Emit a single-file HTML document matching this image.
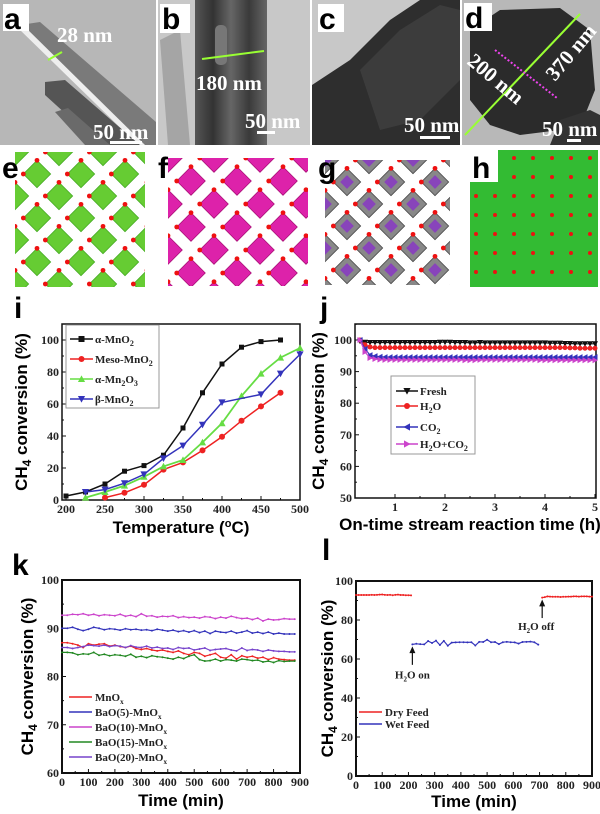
<!DOCTYPE html>
<html><head><meta charset="utf-8"><style>
html,body{margin:0;padding:0;background:#fff;}
svg{display:block;}
.tk{font-family:"Liberation Serif",serif;font-weight:bold;font-size:12px;fill:#222;}
.at{font-family:"Liberation Sans",sans-serif;font-weight:bold;font-size:17px;fill:#000;}
.pl{font-family:"Liberation Sans",sans-serif;font-weight:bold;font-size:30px;fill:#000;}
.lg{font-family:"Liberation Serif",serif;font-weight:bold;font-size:11px;fill:#222;}
.tm{font-family:"Liberation Serif",serif;font-weight:bold;font-size:21px;fill:#fff;}
</style></head><body>
<svg id="fig" width="600" height="814" viewBox="0 0 600 814" xmlns="http://www.w3.org/2000/svg">
<defs>
<linearGradient id="rodB" x1="0" y1="0" x2="1" y2="0"><stop offset="0" stop-color="#555"/><stop offset="0.25" stop-color="#333"/><stop offset="0.5" stop-color="#666"/><stop offset="0.75" stop-color="#3a3a3a"/><stop offset="1" stop-color="#666"/></linearGradient>
</defs>
<!-- TEM a -->
<g>
<rect x="0" y="0" width="156" height="145" fill="#b7b7b7"/>
<polygon points="20,25 40,22 156,122 156,145 140,145" fill="#7a7a7a"/>
<polygon points="18,28 24,26 145,145 138,145" fill="#eeeeee"/>
<polygon points="45,82 65,80 140,145 100,145 45,95" fill="#555"/>
<polygon points="55,112 68,108 110,145 85,145" fill="#6a6a6a"/>
<line x1="48" y1="60" x2="62" y2="52" stroke="#9f3" stroke-width="2"/>
<text class="tm" x="57" y="42">28 nm</text>
<text class="tm" x="93" y="139">50 nm</text>
<rect x="110" y="141" width="32" height="3" fill="#fff"/>
<rect x="3" y="4" width="26" height="27" fill="#fff"/>
<text class="pl" x="4" y="29">a</text>
</g>
<!-- TEM b -->
<g>
<rect x="158" y="0" width="152" height="145" fill="#c8c8c8"/>
<polygon points="160,40 180,30 190,145 168,145" fill="#a5a5a5"/>
<rect x="195" y="0" width="72" height="145" fill="url(#rodB)"/>
<rect x="215" y="25" width="12" height="40" fill="#777" rx="5"/>
<line x1="202" y1="59" x2="264" y2="51" stroke="#9f3" stroke-width="2"/>
<text class="tm" x="196" y="90">180 nm</text>
<text class="tm" x="245" y="128">50 nm</text>
<rect x="257" y="131" width="18" height="3" fill="#fff"/>
<rect x="160" y="4" width="30" height="29" fill="#fff"/>
<text class="pl" x="162" y="29">b</text>
</g>
<!-- TEM c -->
<g>
<rect x="312" y="0" width="148" height="145" fill="#c8c8c8"/>
<polygon points="312,85 350,60 390,20 420,0 460,0 460,145 312,145" fill="#2e2e2e"/>
<polygon points="360,70 400,30 440,5 460,10 460,80 420,120 380,130" fill="#3c3c3c"/>
<text class="tm" x="404" y="132">50 nm</text>
<rect x="420" y="136" width="30" height="3" fill="#fff"/>
<rect x="318" y="4" width="26" height="28" fill="#fff"/>
<text class="pl" x="319" y="29">c</text>
</g>
<!-- TEM d -->
<g>
<rect x="462" y="0" width="138" height="145" fill="#b8b8b8"/>
<polygon points="470,30 500,10 560,8 590,30 595,90 585,115 560,130 520,135 490,125 470,100" fill="#2b2b2b"/>
<polygon points="560,120 590,110 600,115 600,145 550,145" fill="#333"/>
<line x1="580" y1="14" x2="465" y2="135" stroke="#9f3" stroke-width="2"/>
<line x1="495" y1="50" x2="557" y2="98" stroke="#e4e" stroke-width="2" stroke-dasharray="2,2"/>
<text class="tm" x="0" y="0" font-size="17" transform="translate(466,63) rotate(40)">200 nm</text>
<text class="tm" x="0" y="0" font-size="17" transform="translate(555,82) rotate(-50)">370 nm</text>
<text class="tm" x="542" y="136" font-size="18">50 nm</text>
<rect x="567" y="139" width="14" height="3" fill="#fff"/>
<rect x="464" y="3" width="28" height="28" fill="#fff"/>
<text class="pl" x="465" y="28">d</text>
</g>
<g id="structs"></g>
<text class="pl" x="2" y="178">e</text>
<text class="pl" x="158" y="178">f</text>
<text class="pl" x="318" y="178">g</text>
<rect x="470" y="150" width="28" height="32" fill="#fff"/>
<text class="pl" x="472" y="178">h</text>
<text class="pl" x="14" y="318">i</text>
<text class="pl" x="320" y="318">j</text>
<text class="pl" x="12" y="575" font-size="32">k</text>
<text class="pl" x="322" y="560" font-size="32">l</text>
<g id="charts"></g>
</svg>
<script>
// ---------- chart i data ----------
const iTemps = [200,225,250,275,300,325,350,375,400,425,450,475,500];
const iAlpha = [2.5,5,10,18,21.5,28,45,67,85,95.5,99,100,null];
const iMeso = [null,null,1.5,4.5,9.5,19,23.5,31,39.5,49.5,58.5,67,null];
const iMn2O3 = [null,1.5,5,9,14.5,21,25,36,48,65,79,89,95];
const iBeta = [null,5,6.5,10.5,16,26,34,47,61,null,66,79,91];
const iYTicks = [0,20,40,60,80,100];
const iXTicks = [200,250,300,350,400,450,500];
// ---------- chart j data ----------
const jTimes = [0.3,0.4,0.5,0.6,0.7,0.8,0.9,1.0,1.1,1.2,1.3,1.4,1.5,1.6,1.7,1.8,1.9,2.0,2.1,2.2,2.3,2.4,2.5,2.6,2.7,2.8,2.9,3.0,3.1,3.2,3.3,3.4,3.5,3.6,3.7,3.8,3.9,4.0,4.1,4.2,4.3,4.4,4.5,4.6,4.7,4.8,4.9,5.0];
const jFresh = [99.6,99.3,99.2,99.2,99.2,99.2,99.2,99.2,99.2,99.2,99.2,99.2,99.2,99.2,99.2,99.2,99.3,99.3,99.3,99.2,99.2,99.2,99.1,99.1,99.2,99.1,99.1,99.1,99.1,99.1,99.1,99.1,99.1,99.1,99.1,99.1,99.1,99.1,99.0,99.0,99.0,98.9,98.9,98.8,98.8,98.8,98.8,98.8];
const jH2O = [100,98.5,97.8,97.6,97.6,97.6,97.6,97.6,97.6,97.6,97.6,97.6,97.6,97.6,97.6,97.6,97.6,97.6,97.6,97.6,97.6,97.6,97.6,97.6,97.6,97.6,97.6,97.6,97.6,97.6,97.6,97.6,97.6,97.6,97.6,97.6,97.6,97.6,97.6,97.6,97.6,97.6,97.5,97.5,97.4,97.4,97.4,97.4];
const jCO2 = [100,97.2,95.2,94.9,94.7,94.6,94.6,94.6,94.6,94.6,94.6,94.6,94.6,94.6,94.6,94.6,94.6,94.6,94.6,94.6,94.6,94.6,94.6,94.6,94.6,94.6,94.6,94.6,94.6,94.6,94.6,94.6,94.6,94.6,94.6,94.6,94.6,94.6,94.6,94.6,94.6,94.6,94.6,94.6,94.6,94.6,94.6,94.6];
const jMix = [100,96.2,94.3,94.0,93.8,93.7,93.7,93.7,93.7,93.7,93.7,93.7,93.7,93.7,93.7,93.7,93.7,93.7,93.7,93.7,93.7,93.6,93.6,93.6,93.7,93.7,93.7,93.7,93.7,93.7,93.7,93.7,93.7,93.7,93.7,93.7,93.6,93.6,93.6,93.6,93.6,93.6,93.6,93.6,93.6,93.6,93.6,93.6];
const jYTicks = [50,60,70,80,90,100];
const jXTicks = [1,2,3,4,5];
// ---------- chart k data ----------
const kTimes = [0,20,40,60,80,100,120,140,160,180,200,220,240,260,280,300,320,340,360,380,400,420,440,460,480,500,520,540,560,580,600,620,640,660,680,700,720,740,760,780,800,820,840,860,880];
const kMnOx = [87,87,86.8,86.5,86,86.8,86.5,86.7,86.8,86.3,86.5,86.2,86,86.3,85.8,85.6,85.8,85.5,85.3,85.5,85.2,85,85.3,84.8,84.5,85,84.8,84.2,84.5,84.8,84,83.8,84.5,83.6,84.3,84,84.2,83.8,84,83.5,83.9,83.6,83.5,83.4,83.4];
const kBa5 = [90,90,90.2,89.8,89.5,89.8,90.2,90,89.7,89.9,89.8,89.6,89.9,89.7,89.8,89.6,89.7,89.5,89.8,89.6,89.4,89.6,89.3,89.5,89.2,89.5,89.1,89.4,88.9,89.4,89.2,89.1,89.4,89,89.2,89.5,89,89.2,88.9,89.2,88.8,89,88.8,88.8,88.8];
const kBa10 = [92.7,92.7,92.9,92.8,93,92.7,92.9,92.6,92.8,92.7,92.6,92.9,92.5,92.7,92.4,93,92.5,92.6,92.3,92.5,92.4,92.6,92.2,92.4,92.2,92.3,92.1,92.4,92.3,92,92.3,92.1,92.5,92.2,92,92.1,91.8,92.1,91.5,91.9,91.7,91.8,92,91.9,91.9];
const kBa15 = [85,85,84.9,84.5,84.7,84.6,85,84.4,84.6,84.3,84.5,84.4,84.2,84.6,84,84.2,83.9,84.3,84.1,84,83.8,83.6,84,83.7,84.2,84.5,83.5,83.2,83.3,83.6,83.2,83.5,83.4,83.2,83.6,83.5,83.3,83.4,83,83.2,82.9,83.3,83.1,83.2,83.2];
const kBa20 = [86,86,85.8,86,86.2,86.5,86.4,86.3,86.5,86.2,86.4,86.3,86,86.4,86.1,86,86.3,85.9,86.1,85.8,85.9,85.6,86,85.8,85.9,85.5,85.7,85.9,85.4,85.6,85.7,85.8,85.5,85.3,85.9,85.4,85.6,85.5,85.2,85.5,85.3,85.2,85.2,85.1,85.1];
const kYTicks = [60,70,80,90,100];
const kXTicks = [0,100,200,300,400,500,600,700,800,900];
// ---------- chart l data ----------
const lDry1T = [0,10,20,30,40,50,60,70,80,90,100,110,120,130,140,150,160,170,180,190,200,210];
const lDry1V = [92.8,92.8,92.8,92.8,92.8,92.8,92.9,92.8,92.9,93.0,93.1,92.9,92.8,92.9,92.7,92.9,93.0,92.8,92.8,92.7,92.7,92.6];
const lWetT = [215,230,245,260,275,290,305,320,335,350,365,380,395,410,425,440,455,470,485,500,515,530,545,560,575,590,605,620,635,650,665,680,695];
const lWetV = [67.5,67.8,67.6,67.5,69.2,68.2,69.4,67.2,69.3,66.8,68.4,68.5,68.6,68.6,68.5,68.6,66.9,68.8,68.7,69.9,68.6,68.7,67.6,68.6,68.8,68.6,68.5,67.9,68.7,68.8,68.9,68.6,67.4];
const lDry2T = [710,720,730,740,750,760,770,780,790,800,810,820,830,840,850,860,870,880,890,900];
const lDry2V = [91.5,91.7,92.1,92.0,91.9,91.9,91.9,91.8,91.9,91.9,92.0,92.0,92.1,92.1,92.0,92.1,92.1,92.1,92.0,92.0];
const lYTicks = [0,20,40,60,80,100];
const lXTicks = [0,100,200,300,400,500,600,700,800,900];

const NS = 'http://www.w3.org/2000/svg';
const root = document.getElementById('charts');
function mk(tag, attrs, parent){ const e=document.createElementNS(NS,tag); for(const k in attrs) e.setAttribute(k,attrs[k]); (parent||root).appendChild(e); return e; }

function marker(g, type, x, y, color, s){
  let e;
  if(type==='sq') e=mk('rect',{x:x-s,y:y-s,width:2*s,height:2*s,fill:color},g);
  else if(type==='ci') e=mk('circle',{cx:x,cy:y,r:s,fill:color},g);
  else if(type==='tu') e=mk('polygon',{points:`${x},${y-s*1.2} ${x-s*1.2},${y+s} ${x+s*1.2},${y+s}`,fill:color},g);
  else if(type==='td') e=mk('polygon',{points:`${x},${y+s*1.2} ${x-s*1.2},${y-s} ${x+s*1.2},${y-s}`,fill:color},g);
  else if(type==='tl') e=mk('polygon',{points:`${x-s*1.2},${y} ${x+s},${y-s*1.2} ${x+s},${y+s*1.2}`,fill:color},g);
  else if(type==='tr') e=mk('polygon',{points:`${x+s*1.2},${y} ${x-s},${y-s*1.2} ${x-s},${y+s*1.2}`,fill:color},g);
  else e=mk('circle',{cx:x,cy:y,r:s,fill:color},g);
  
  
}

function axes(c){
  const g=mk('g',{});
  
  
  const sx=v=>c.x0+(v-c.xmin)/(c.xmax-c.xmin)*(c.x1-c.x0);
  const sy=v=>c.y0-(v-c.ymin)/(c.ymax-c.ymin)*(c.y0-c.y1);
  c.sx=sx; c.sy=sy; c.g=g;
  const L=c.bx0, R=c.bx1, T=c.by0, B=c.by1;
  const box=mk('rect',{x:L,y:T,width:R-L,height:B-T,fill:'none',stroke:'#111','stroke-width':c.bw||1.5},g);
  
  
  c.yt.forEach(v=>{ const y=sy(v);
    mk('line',{x1:L,y1:y,x2:L+4,y2:y,stroke:'#111','stroke-width':1},g);
    if(c.minorY){ const y2=sy(v+c.minorY); if(y2>T) mk('line',{x1:L,y1:y2,x2:L+2,y2:y2,stroke:'#111','stroke-width':1},g);}
    const t=mk('text',{x:L-3,y:y+4,'text-anchor':'end',class:'tk','font-size':c.tfs||12},g); t.textContent=v;
    
    
  });
  c.xt.forEach(v=>{ const x=sx(v);
    mk('line',{x1:x,y1:B,x2:x,y2:B-4,stroke:'#111','stroke-width':1},g);
    if(c.minorX){ const x2=sx(v+c.minorX); if(x2<R) mk('line',{x1:x2,y1:B,x2:x2,y2:B-2,stroke:'#111','stroke-width':1},g);}
    const t=mk('text',{x:x,y:B+13,'text-anchor':'middle',class:'tk','font-size':c.tfs||12},g); t.textContent=v;
    
    
  });
  const xt=mk('text',{x:c.xtx||(L+R)/2,y:c.xty,'text-anchor':'middle',class:'at','font-size':c.xsz||c.tsz||17},g);
  xt.innerHTML=c.xtitle;
  
  
  const yt=mk('text',{x:0,y:0,'text-anchor':'middle',class:'at','font-size':c.tsz||17,transform:`translate(${c.ytx},${(T+B)/2}) rotate(-90)`},g);
  yt.innerHTML='CH<tspan font-size="12" dy="4">4</tspan><tspan dy="-4"> conversion (%)</tspan>';
  
  
  return c;
}
function series(c, xs, ys, color, mt, ms, lw, name){
  const g=mk('g',{},c.g);
  
  
  let d=''; let started=false;
  xs.forEach((x,i)=>{ const v=ys[i]; if(v===null||v===undefined) return; d+=(started?'L':'M')+c.sx(x).toFixed(1)+','+c.sy(v).toFixed(1); started=true; });
  mk('path',{d:d,fill:'none',stroke:color,'stroke-width':lw},g);
  xs.forEach((x,i)=>{ const v=ys[i]; if(v===null||v===undefined) return; marker(g,mt,c.sx(x),c.sy(v),color,ms); });
}
function legend(c, items, x0, x1, tx, ys, bbox){
  const g=mk('g',{},c.g);
  
  
  if(bbox) mk('rect',{x:bbox[0],y:bbox[1],width:bbox[2],height:bbox[3],fill:'#fff',stroke:'#999','stroke-width':1},g);
  items.forEach((it,i)=>{
    const e=mk('g',{},g);
    
    
    mk('line',{x1:x0,y1:ys[i],x2:x1,y2:ys[i],stroke:it.c,'stroke-width':it.lw||1.5},e);
    if(it.m) marker(e,it.m,(x0+x1)/2,ys[i],it.c,it.ms||3);
    const t=mk('text',{x:tx,y:ys[i]+4,class:'lg'},e); t.innerHTML=it.t;
  });
}

// chart i
const ci=axes({name:'chart-i',xmin:200,xmax:500,ymin:0,ymax:100,x0:66,x1:300,y0:500,y1:340,bx0:62,bx1:300,by0:324,by1:500,yt:iYTicks,xt:iXTicks,minorY:10,minorX:25,xty:533,ytx:27,xtitle:'Temperature (<tspan font-size="11" dy="-6">o</tspan><tspan dy="6">C)</tspan>'});
series(ci,iTemps,iAlpha,'#111','sq',2.5,1.5,'series-alpha-mno2');
series(ci,iTemps,iMeso,'#e22','ci',3,1.5,'series-meso-mno2');
series(ci,iTemps,iMn2O3,'#6d4','tu',3,1.8,'series-alpha-mn2o3');
series(ci,iTemps,iBeta,'#33b','td',3,1.5,'series-beta-mno2');
legend(ci,[{t:'α-MnO<tspan font-size="8" dy="3">2</tspan>',c:'#111',m:'sq'},{t:'Meso-MnO<tspan font-size="8" dy="3">2</tspan>',c:'#e22',m:'ci'},{t:'α-Mn<tspan font-size="8" dy="3">2</tspan><tspan dy="-3">O</tspan><tspan font-size="8" dy="3">3</tspan>',c:'#6d4',m:'tu'},{t:'β-MnO<tspan font-size="8" dy="3">2</tspan>',c:'#33b',m:'td'}],70,93,95,[339,359,379,399],[66,325,93,83]);

// chart j
const cj=axes({name:'chart-j',xmin:0,xmax:5,ymin:50,ymax:100,x0:345,x1:595,y0:498,y1:340,bx0:355,bx1:596,by0:324,by1:498,yt:jYTicks,xt:jXTicks,minorY:5,minorX:0.5,xty:530,xtx:470,xsz:14,ytx:324,tsz:15,xtitle:'On-time stream reaction time (h)'});
series(cj,jTimes,jFresh,'#111','td',2.5,1.2,'series-fresh');
series(cj,jTimes,jH2O,'#e22','ci',2.5,1.2,'series-h2o');
series(cj,jTimes,jCO2,'#33b','tl',2.5,1.2,'series-co2');
series(cj,jTimes,jMix,'#c4c','tr',2.5,1.2,'series-h2o-co2');
legend(cj,[{t:'Fresh',c:'#111',m:'td'},{t:'H<tspan font-size="8" dy="3">2</tspan><tspan dy="-3">O</tspan>',c:'#e22',m:'ci'},{t:'CO<tspan font-size="8" dy="3">2</tspan>',c:'#33b',m:'tl'},{t:'H<tspan font-size="8" dy="3">2</tspan><tspan dy="-3">O+CO</tspan><tspan font-size="8" dy="3">2</tspan>',c:'#c4c',m:'tr'}],396,418,420,[391,406,427,444],[391,376,84,78]);

// chart k
const ck=axes({name:'chart-k',xmin:0,xmax:900,ymin:60,ymax:100,x0:62,x1:300,y0:773,y1:580,bx0:62,bx1:300,by0:580,by1:773,yt:kYTicks,xt:kXTicks,minorY:5,minorX:50,tfs:10,xty:806,ytx:33,tsz:20,bw:2,xtitle:'Time (min)'});
series(ck,kTimes,kMnOx,'#e22','dot',1,1.2,'series-mnox');
series(ck,kTimes,kBa5,'#33b','dot',1,1.2,'series-bao5');
series(ck,kTimes,kBa10,'#c4c','dot',1,1.2,'series-bao10');
series(ck,kTimes,kBa15,'#282','dot',1,1.2,'series-bao15');
series(ck,kTimes,kBa20,'#74c','dot',1,1.2,'series-bao20');
const sub='<tspan font-size="7" dy="3">x</tspan>';
legend(ck,[{t:'MnO'+sub,c:'#e22'},{t:'BaO(5)-MnO'+sub,c:'#33b'},{t:'BaO(10)-MnO'+sub,c:'#c4c'},{t:'BaO(15)-MnO'+sub,c:'#282'},{t:'BaO(20)-MnO'+sub,c:'#74c'}],69,92,95,[697,712,727,742,757]);

// chart l
const cl=axes({name:'chart-l',xmin:0,xmax:900,ymin:0,ymax:100,x0:356,x1:592,y0:776,y1:581,bx0:356,bx1:592,by0:581,by1:776,yt:lYTicks,xt:lXTicks,minorY:10,minorX:50,tfs:10,xty:807,ytx:333,tsz:20,bw:2,xtitle:'Time (min)'});
series(cl,lDry1T,lDry1V,'#e22','dot',1,1.2,'series-dry-feed-1');
series(cl,lWetT,lWetV,'#33b','dot',1,1.2,'series-wet-feed');
series(cl,lDry2T,lDry2V,'#e22','dot',1,1.2,'series-dry-feed-2');
legend(cl,[{t:'Dry Feed',c:'#e22'},{t:'Wet Feed',c:'#33b'}],359,382,385,[712,724]);
(function(){
  const g=mk('g',{},cl.g);
  
  
  const ax=cl.sx(215), bx=cl.sx(710);
  mk('line',{x1:ax,y1:cl.sy(57),x2:ax,y2:cl.sy(65),stroke:'#111','stroke-width':1.2},g);
  mk('polygon',{points:`${ax},${cl.sy(66.5)} ${ax-3},${cl.sy(63)} ${ax+3},${cl.sy(63)}`,fill:'#111'},g);
  let t=mk('text',{x:ax,y:cl.sy(50),'text-anchor':'middle',class:'lg','font-size':10},g);
  t.innerHTML='H<tspan font-size="7" dy="3">2</tspan><tspan dy="-3">O on</tspan>';
  
  
  mk('line',{x1:bx,y1:cl.sy(81),x2:bx,y2:cl.sy(88),stroke:'#111','stroke-width':1.2},g);
  mk('polygon',{points:`${bx},${cl.sy(90.5)} ${bx-3},${cl.sy(87)} ${bx+3},${cl.sy(87)}`,fill:'#111'},g);
  t=mk('text',{x:bx-6,y:cl.sy(75),'text-anchor':'middle',class:'lg','font-size':10},g);
  t.innerHTML='H<tspan font-size="7" dy="3">2</tspan><tspan dy="-3">O off</tspan>';
  
  
})();

// crystal structures (decorative)
(function(){
  const S=document.getElementById('structs');
  function lattice(name,x0,y0,w,h,cell,fill,stroke,dot,inner){
    const g=mk('g',{},S);
    
    
    const cp=mk('clipPath',{id:'cp'+name},g); mk('rect',{x:x0,y:y0,width:w,height:h},cp);
    const gg=mk('g',{'clip-path':'url(#cp'+name+')'},g);
    const s=cell/2;
    for(let yy=y0;yy<y0+h+cell;yy+=s){ for(let xx=x0;xx<x0+w+cell;xx+=s){
      const k=Math.round((xx-x0)/s)+Math.round((yy-y0)/s);
      if(k%2===1) continue;
      const q=s*0.62;
      mk('polygon',{points:`${xx},${yy-q} ${xx+q},${yy} ${xx},${yy+q} ${xx-q},${yy}`,fill:fill,stroke:stroke,'stroke-width':0.8},gg);
      if(inner) mk('polygon',{points:`${xx},${yy-q*0.5} ${xx+q*0.5},${yy} ${xx},${yy+q*0.5} ${xx-q*0.5},${yy}`,fill:inner},gg);
      mk('circle',{cx:xx,cy:yy-q,r:2.4,fill:dot},gg);
      mk('circle',{cx:xx-q,cy:yy,r:2.4,fill:dot},gg);
    }}
  }
  lattice('structure-e',15,152,130,135,44,'#6c3','#4a2','#e11',null);
  lattice('structure-f',168,158,140,128,46,'#d2a','#a17','#e11',null);
  lattice('structure-g',325,160,125,125,44,'#888','#444','#e11','#84b');
  const g=mk('g',{},S);
  
  
  mk('rect',{x:470,y:150,width:128,height:137,fill:'#3b3'},g);
  for(let r=0;r<7;r++) for(let c2=0;c2<7;c2++) mk('circle',{cx:476+c2*19,cy:158+r*19,r:2,fill:'#e11'},g);
})();
</script>
</body></html>
